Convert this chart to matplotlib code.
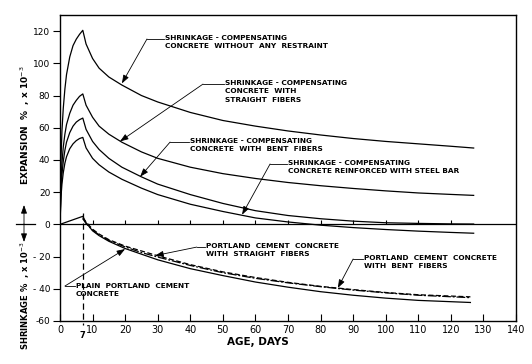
import matplotlib.pyplot as plt

# age in days and readings (x10^-3 %)
hari_naik = [0, 0.3, 0.6, 1, 1.5, 2, 3, 4, 5, 6, 7]
tanpa_naik = [0, 40, 58, 72, 84, 93, 104, 111, 115, 118, 120.5]
lurus_naik = [0, 26, 38, 48, 56, 62, 69, 74, 77, 79.5, 81]
bengkok_naik = [0, 21, 31, 39, 46, 51, 57, 61, 63.5, 65, 66]
baja_naik = [0, 17, 25, 32, 38, 42, 47, 50, 52, 53.3, 54]

hari_turun = [7, 8, 10, 12, 15, 19, 25, 30, 40, 50, 60, 70, 80, 90, 100, 110, 120, 127]
tanpa_turun = [120.5, 112, 103, 97, 91.5, 86.5, 80, 76, 69.5, 64.5, 61, 58, 55.5, 53.3, 51.5, 50, 48.5, 47.4]
lurus_turun = [81, 74, 66.5, 61, 56, 51, 45, 41, 35.5, 31.5, 28.5, 26, 24, 22.3, 20.8, 19.5, 18.6, 18]
bengkok_turun = [66, 59, 51.5, 46.5, 41, 35.5, 29.5, 25, 18.5, 13, 8.5, 5.5, 3.5, 2, 1, 0.6, 0.3, 0.2]
baja_turun = [54, 47.5, 41, 37, 32.5, 28, 22.5, 18.5, 12.5, 8, 4, 1.5, -0.5, -2, -3.2, -4.2, -5, -5.5]

# portland cement concrete (no expansive agent)
hari_pc = [0, 7, 8, 10, 12, 15, 20, 25, 30, 40, 50, 60, 70, 80, 90, 100, 110, 126]
polos_pc = [0, 5, 1, -4, -7, -10.5, -15, -18.5, -22, -27.5, -31.8, -35.8, -39, -41.8, -44, -45.8, -47.2, -48.5]
hari_serat = [7, 8, 10, 12, 15, 20, 25, 30, 40, 50, 60, 70, 80, 90, 100, 110, 126]
lurus_pc = [4, 1.5, -3, -6, -9.5, -13.5, -16.5, -19.5, -25, -29.5, -33, -36, -38.5, -40.5, -42.3, -43.7, -45]
bengkok_pc = [3.5, 0.5, -3.5, -6.5, -10, -14, -17.5, -20.3, -25.5, -30, -33.5, -36.3, -38.7, -40.8, -42.5, -44, -45.5]

x_ticks = list(range(0, 141, 10))
y_ticks = [-60, -40, -20, 0, 20, 40, 60, 80, 100, 120]
y_labels = ['-60', '- 40', '- 20', '0', '20', '40', '60', '80', '100', '120']

huruf = dict(fontsize=5.3, fontweight='bold', family='DejaVu Sans', linespacing=1.45)
panah = dict(arrowstyle='-|>,head_length=0.5,head_width=0.18', lw=0.6, color='black',
             shrinkA=0, shrinkB=0)

fig = plt.figure(figsize=(5.32, 3.64), dpi=100)
ax = fig.add_axes([60 / 532, 1 - 321 / 364, 456 / 532, 306 / 364])

for naik, turun in [(tanpa_naik, tanpa_turun), (lurus_naik, lurus_turun),
                    (bengkok_naik, bengkok_turun), (baja_naik, baja_turun)]:
    ax.plot(hari_naik + hari_turun[1:], naik + turun[1:], color='black', lw=0.9)

ax.plot(hari_pc, polos_pc, color='black', lw=0.9)
ax.plot(hari_serat, lurus_pc, color='black', lw=0.9, dashes=(4, 2))
ax.plot(hari_serat, bengkok_pc, color='black', lw=0.9, dashes=(7, 1.5, 1.5, 1.5))

# garis nol dengan tanda skala ke atas
ax.axhline(0, color='black', lw=0.9)
ax.vlines(x_ticks[1:13], 0, 2.5, color='black', lw=0.8)

# garis putus-putus pada umur 7 hari
ax.plot([7, 7], [7, -62.5], color='black', lw=0.9, dashes=(5, 3), clip_on=False)
ax.text(7, -66.5, '7', ha='center', va='top', fontsize=6, fontweight='bold')

ax.set_xlim(0, 140)
ax.set_ylim(-60, 130)
ax.set_xticks(x_ticks)
ax.set_yticks(y_ticks)
ax.set_yticklabels(y_labels)
ax.tick_params(axis='x', direction='in', length=5, width=0.8, labelsize=7, pad=3)
ax.tick_params(axis='y', direction='out', length=5, width=0.8, labelsize=6.5, pad=2)
for s in ax.spines.values():
    s.set_linewidth(1.0)

fig.text(258 / 532, 1 - 342 / 364, 'AGE, DAYS', fontsize=7.5, fontweight='bold',
         ha='center', va='center')
fig.text(25 / 532, 1 - 125 / 364, 'EXPANSION  %  , x 10$^{-3}$', rotation=90,
         ha='center', va='center', fontsize=6.5, fontweight='bold')
fig.text(25 / 532, 1 - 296 / 364, 'SHRINKAGE %  , x 10$^{-3}$', rotation=90,
         ha='center', va='center', fontsize=6, fontweight='bold')

# panah ganda di kiri
fig.add_artist(plt.Line2D([16 / 532, 35 / 532], [1 - 224 / 364] * 2, color='black',
                          lw=0.9, transform=fig.transFigure))
ax.annotate('', xy=(24 / 532, 1 - 205 / 364), xytext=(24 / 532, 1 - 224 / 364),
            xycoords='figure fraction', arrowprops=panah)
ax.annotate('', xy=(24 / 532, 1 - 242 / 364), xytext=(24 / 532, 1 - 224 / 364),
            xycoords='figure fraction', arrowprops=panah)

# label kurva: (teks, posisi teks, awal garis, ujung panah)
label = [
    ('SHRINKAGE - COMPENSATING\nCONCRETE  WITHOUT  ANY  RESTRAINT', (32.2, 117.8), (26.7, 115.1), (19.0, 87.5)),
    ('SHRINKAGE - COMPENSATING\nCONCRETE  WITH\nSTRAIGHT  FIBERS', (50.8, 89.5), (43.9, 87.1), (18.4, 51.5)),
    ('SHRINKAGE - COMPENSATING\nCONCRETE  WITH  BENT  FIBERS', (39.9, 53.8), (33.8, 51.1), (24.6, 29.6)),
    ('SHRINKAGE - COMPENSATING\nCONCRETE REINFORCED WITH STEEL BAR', (70.0, 40.0), (64.5, 37.5), (55.9, 6.0)),
    ('PORTLAND  CEMENT  CONCRETE\nWITH  STRAIGHT  FIBERS', (44.8, -11.6), (42.0, -14.1), (29.2, -19.4)),
    ('PLAIN  PORTLAND  CEMENT\nCONCRETE', (4.9, -36.5), (1.5, -38.3), (20.0, -15.3)),
    ('PORTLAND  CEMENT  CONCRETE\nWITH  BENT  FIBERS', (93.2, -19.0), (90.0, -21.5), (85.3, -39.5)),
]
for teks, pos, awal, ujung in label:
    ax.text(pos[0], pos[1], teks, ha='left', va='top', **huruf)
    ax.plot([awal[0], pos[0] - 0.3], [awal[1], awal[1]], color='black', lw=0.6)
    ax.annotate('', xy=ujung, xytext=awal, arrowprops=panah)

fig.savefig('out.png', dpi=100)
